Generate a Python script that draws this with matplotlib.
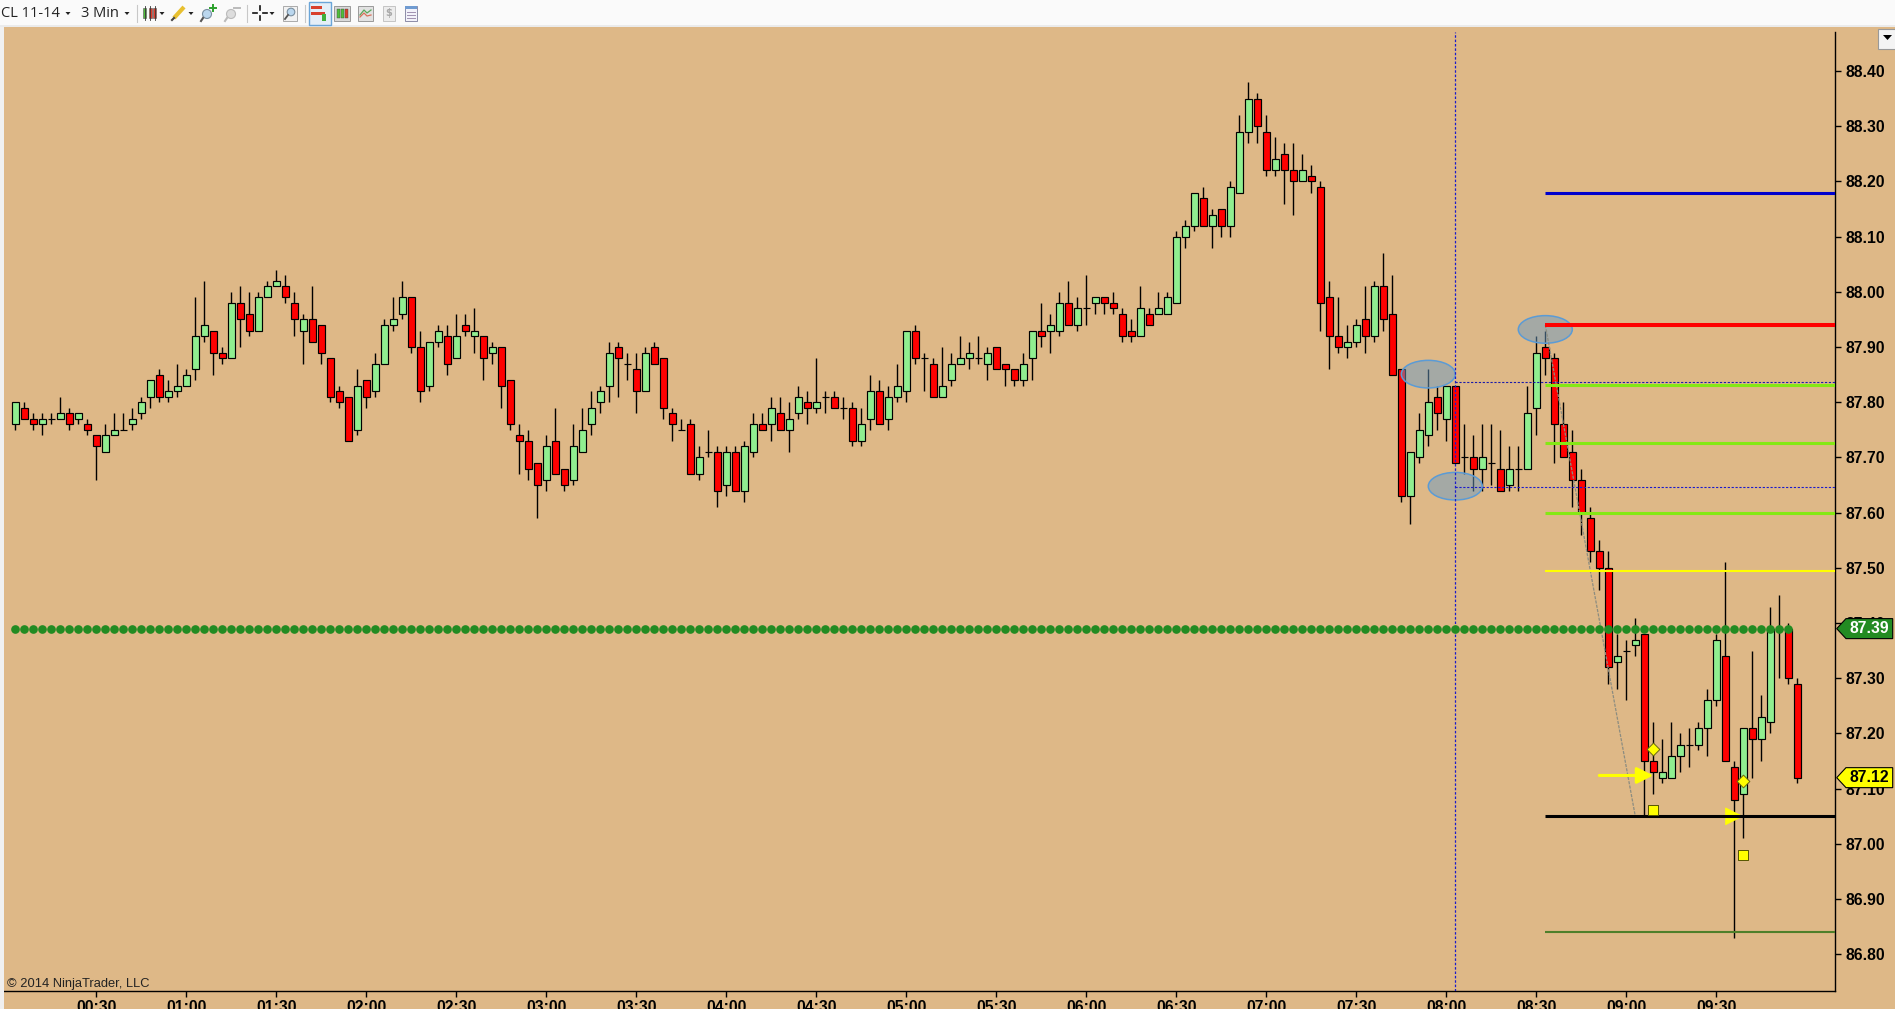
import matplotlib
matplotlib.use("Agg")
import matplotlib.pyplot as plt
from matplotlib.patches import Ellipse, Polygon, Rectangle, Circle

# 3 min bars, CL 11-14
opens = [87.76,87.79,87.77,87.76,87.77,87.77,87.78,87.77,87.76,87.74,
         87.71,87.74,87.75,87.76,87.78,87.81,87.85,87.81,87.82,87.83,
         87.86,87.92,87.93,87.89,87.88,87.98,87.96,87.93,87.99,88.01,
         88.01,87.98,87.93,87.95,87.94,87.88,87.82,87.81,87.75,87.84,
         87.82,87.87,87.94,87.96,87.99,87.90,87.83,87.91,87.92,87.88,
         87.94,87.92,87.92,87.89,87.90,87.84,87.74,87.73,87.69,87.66,
         87.73,87.68,87.66,87.71,87.76,87.80,87.83,87.90,87.87,87.86,
         87.82,87.90,87.88,87.78,87.75,87.76,87.67,87.71,87.71,87.65,
         87.71,87.64,87.71,87.76,87.76,87.78,87.75,87.78,87.80,87.79,
         87.81,87.81,87.79,87.79,87.73,87.77,87.82,87.77,87.81,87.82,
         87.93,87.88,87.87,87.81,87.84,87.87,87.88,87.88,87.87,87.90,
         87.87,87.86,87.84,87.88,87.93,87.93,87.93,87.98,87.94,87.97,
         87.98,87.99,87.98,87.96,87.93,87.92,87.96,87.96,87.96,87.98,
         88.10,88.12,88.17,88.12,88.15,88.12,88.18,88.29,88.35,88.29,
         88.22,88.25,88.22,88.20,88.21,88.19,87.99,87.92,87.90,87.91,
         87.95,87.92,88.01,87.96,87.86,87.63,87.70,87.74,87.81,87.77,
         87.83,87.70,87.70,87.68,87.69,87.68,87.65,87.68,87.68,87.79,
         87.90,87.88,87.76,87.71,87.66,87.59,87.53,87.50,87.33,87.35,
         87.36,87.38,87.15,87.12,87.12,87.16,87.18,87.18,87.21,87.26,
         87.34,87.14,87.09,87.21,87.19,87.22,87.39,87.39,87.29]
highs = [87.80,87.80,87.78,87.78,87.78,87.81,87.79,87.78,87.77,87.74,
         87.76,87.78,87.78,87.79,87.81,87.84,87.86,87.84,87.87,87.86,
         87.99,88.02,87.93,87.90,88.00,88.01,88.00,88.00,88.02,88.04,
         88.03,88.00,87.96,88.01,87.94,87.88,87.83,87.81,87.86,87.84,
         87.89,87.95,87.99,88.02,87.99,87.93,87.91,87.94,87.94,87.96,
         87.96,87.97,87.92,87.91,87.90,87.84,87.76,87.75,87.69,87.74,
         87.79,87.68,87.76,87.79,87.82,87.83,87.91,87.91,87.89,87.89,
         87.90,87.91,87.88,87.79,87.77,87.77,87.72,87.75,87.72,87.72,
         87.72,87.73,87.78,87.78,87.81,87.81,87.80,87.83,87.82,87.88,
         87.82,87.82,87.81,87.80,87.79,87.85,87.84,87.83,87.87,87.93,
         87.94,87.89,87.88,87.90,87.89,87.92,87.91,87.92,87.90,87.90,
         87.87,87.86,87.89,87.93,87.98,87.96,88.00,88.02,87.99,88.03,
         87.99,87.99,88.00,87.97,87.95,88.01,87.97,88.00,88.00,88.11,
         88.13,88.18,88.19,88.15,88.15,88.20,88.32,88.38,88.36,88.32,
         88.28,88.27,88.27,88.25,88.23,88.20,88.02,87.99,87.94,87.95,
         88.01,88.02,88.07,88.03,87.86,87.71,87.78,87.86,87.83,87.83,
         87.83,87.76,87.74,87.76,87.76,87.75,87.72,87.72,87.83,87.92,
         87.93,87.89,87.80,87.75,87.68,87.61,87.55,87.53,87.38,87.37,
         87.41,87.38,87.22,87.19,87.22,87.20,87.21,87.22,87.28,87.38,
         87.51,87.15,87.21,87.35,87.27,87.43,87.45,87.40,87.30]
lows = [87.75,87.77,87.75,87.74,87.76,87.77,87.75,87.76,87.74,87.66,
        87.71,87.74,87.75,87.75,87.77,87.79,87.80,87.80,87.81,87.83,
        87.84,87.91,87.85,87.87,87.88,87.90,87.92,87.93,87.99,88.01,
        87.98,87.92,87.87,87.91,87.87,87.80,87.79,87.73,87.74,87.79,
        87.81,87.87,87.93,87.95,87.89,87.80,87.82,87.90,87.85,87.88,
        87.92,87.89,87.84,87.87,87.79,87.75,87.67,87.66,87.59,87.64,
        87.67,87.64,87.65,87.71,87.74,87.78,87.80,87.81,87.84,87.78,
        87.82,87.87,87.77,87.73,87.75,87.67,87.66,87.70,87.61,87.63,
        87.64,87.62,87.70,87.75,87.73,87.75,87.71,87.77,87.76,87.78,
        87.78,87.79,87.77,87.72,87.72,87.75,87.76,87.75,87.80,87.80,
        87.87,87.82,87.81,87.81,87.83,87.87,87.86,87.87,87.84,87.86,
        87.83,87.83,87.83,87.84,87.90,87.89,87.92,87.94,87.93,87.94,
        87.96,87.96,87.96,87.91,87.91,87.92,87.94,87.96,87.96,87.98,
        88.08,88.11,88.12,88.08,88.10,88.10,88.18,88.27,88.27,88.21,
        88.21,88.16,88.14,88.20,88.18,87.93,87.86,87.89,87.88,87.90,
        87.89,87.91,87.93,87.85,87.62,87.58,87.69,87.72,87.75,87.73,
        87.69,87.67,87.64,87.64,87.65,87.64,87.64,87.64,87.68,87.74,
        87.85,87.69,87.70,87.61,87.56,87.51,87.46,87.29,87.28,87.26,
        87.34,87.05,87.09,87.11,87.12,87.13,87.14,87.17,87.16,87.25,
        87.15,86.83,87.01,87.12,87.15,87.20,87.30,87.29,87.11]
closes = [87.80,87.77,87.76,87.77,87.77,87.78,87.76,87.78,87.75,87.72,
          87.74,87.75,87.75,87.77,87.80,87.84,87.81,87.82,87.83,87.85,
          87.92,87.94,87.89,87.88,87.98,87.95,87.93,87.99,88.01,88.02,
          87.99,87.95,87.95,87.91,87.89,87.81,87.80,87.73,87.83,87.81,
          87.87,87.94,87.95,87.99,87.90,87.82,87.91,87.93,87.87,87.92,
          87.93,87.93,87.88,87.90,87.83,87.76,87.73,87.68,87.65,87.72,
          87.67,87.65,87.72,87.75,87.79,87.82,87.89,87.88,87.87,87.82,
          87.89,87.87,87.79,87.76,87.75,87.67,87.70,87.71,87.64,87.71,
          87.64,87.72,87.76,87.75,87.79,87.75,87.77,87.81,87.79,87.80,
          87.81,87.79,87.79,87.73,87.76,87.82,87.76,87.81,87.83,87.93,
          87.88,87.88,87.81,87.83,87.87,87.88,87.89,87.88,87.89,87.86,
          87.86,87.84,87.87,87.93,87.92,87.94,87.98,87.94,87.97,87.97,
          87.99,87.98,87.97,87.92,87.92,87.97,87.94,87.97,87.99,88.10,
          88.12,88.18,88.12,88.14,88.12,88.19,88.29,88.35,88.30,88.22,
          88.24,88.22,88.20,88.22,88.20,87.98,87.92,87.90,87.91,87.94,
          87.92,88.01,87.95,87.85,87.63,87.71,87.75,87.80,87.78,87.83,
          87.69,87.70,87.68,87.70,87.69,87.64,87.68,87.68,87.78,87.89,
          87.88,87.76,87.70,87.66,87.60,87.53,87.50,87.32,87.34,87.35,
          87.37,87.15,87.13,87.13,87.16,87.18,87.18,87.21,87.26,87.37,
          87.15,87.08,87.21,87.19,87.23,87.39,87.39,87.30,87.12]

price_ticks = [88.40,88.30,88.20,88.10,88.00,87.90,87.80,87.70,87.60,87.50,
               87.40,87.30,87.20,87.10,87.00,86.90,86.80]
time_tick_bars = [9,19,29,39,49,59,69,79,89,99,109,119,129,139,149,159,169,179,189]
time_labels = ["00:30","01:00","01:30","02:00","02:30","03:00","03:30","04:00","04:30","05:00",
               "05:30","06:00","06:30","07:00","07:30","08:00","08:30","09:00","09:30"]

# levels drawn from the 08:33 bar to the axis
level_start = 170
level_prices = [88.18, 87.94, 87.832, 87.727, 87.60, 87.495, 87.05, 86.84]
level_colors = ["#0000CD", "#FF0000", "#84E814", "#84E814", "#84E814", "#FFFF00", "#000000", "#4E7F2A"]
level_widths = [2.2, 2.9, 2.2, 2.2, 2.2, 1.5, 2.2, 1.5]

pivot_price = 87.39
pivot_last_bar = 197
range_bar = 160
range_high = 87.836
range_low = 87.647

ellipse_bars = [170, 157, 160]
ellipse_prices = [87.932, 87.851, 87.648]

diag_bars = [170, 180]
diag_prices = [87.94, 87.05]

arrow_tails = [176, 187]
arrow_heads = [182, 192]
arrow_prices = [87.124, 87.05]
arrow_widths = [2.2, 0.7]
arrow_scales = [14, 17]

marker_bars = [182, 192]
square_prices = [87.062, 86.979]
diamond_prices = [87.172, 87.114]

tag_prices = [87.39, 87.12]
tag_texts = ["87.39", "87.12"]
tag_fills = ["#228B22", "#FFFF00"]
tag_inks = ["white", "black"]

BG = "#DEB887"
UP = "#90EE90"
DOWN = "#FF0000"
FONT = "Liberation Sans"

fig = plt.figure(figsize=(18.95, 10.09), dpi=100, facecolor=BG)

# chart area in pixels: x 4..1835, y 32..991
ax = fig.add_axes([4/1895, (1009-991)/1009, 1831.3/1895, 959/1009], facecolor=BG)
x0 = (4 - 15.3) / 9
x1 = (1835.3 - 15.3) / 9
ax.set_xlim(x0, x1)
ax.set_ylim(86.8 - (991 - 954.3) / 552, 86.8 + (954.3 - 32) / 552)

for s in ["top", "left"]:
    ax.spines[s].set_visible(False)
for s in ["right", "bottom"]:
    ax.spines[s].set_linewidth(1.0)

bars = list(range(len(opens)))
ax.vlines(bars, lows, highs, color="black", lw=1.0, zorder=3)
for i in bars:
    top = max(opens[i], closes[i])
    bot = min(opens[i], closes[i])
    col = UP if closes[i] >= opens[i] else DOWN
    ax.bar(i, top - bot, bottom=bot, width=0.74, color=col, edgecolor="black", lw=0.85, zorder=4)

for b, p in zip(ellipse_bars, ellipse_prices):
    ax.add_patch(Ellipse((b, p), 6, 0.05, facecolor=(0.42, 0.61, 0.77, 0.5),
                         edgecolor="#5B9BD5", lw=1.1, zorder=5))

ax.axvline(range_bar, color="#1A1ACC", lw=0.9, ls=(0, (2, 1.5)), zorder=5)
ax.plot([range_bar, x1], [range_high, range_high], color="#1A1AAA", lw=0.8, ls=(0, (2, 1.5)), zorder=5)
ax.plot([range_bar, x1], [range_low, range_low], color="#1A1ACC", lw=0.8, ls=(0, (2, 1.5)), zorder=5)

ax.plot(diag_bars, diag_prices, color="#8C8C80", lw=0.9, ls=(0, (2.5, 1)), zorder=5)

for t, h, p, w, m in zip(arrow_tails, arrow_heads, arrow_prices, arrow_widths, arrow_scales):
    ax.annotate("", xy=(h, p), xytext=(t, p), zorder=5,
                arrowprops=dict(arrowstyle="-|>,head_length=0.7,head_width=0.35", mutation_scale=m,
                                color="#FFFF00", lw=w, shrinkA=0, shrinkB=0))

for p, c, w in zip(level_prices, level_colors, level_widths):
    ax.plot([level_start, x1], [p, p], color=c, lw=w, solid_capstyle="butt", zorder=6)

ax.scatter(bars[:pivot_last_bar + 1], [pivot_price] * (pivot_last_bar + 1), s=39, color="#228B22",
           linewidths=0, zorder=7)

ax.scatter(marker_bars, square_prices, s=52, marker="s", color="#FFFF00", edgecolors="#555500", linewidths=0.7, zorder=8)
ax.scatter(marker_bars, diamond_prices, s=42, marker="D", color="#FFFF00", edgecolors="#6B6B10", linewidths=0.7, zorder=8)

ax.yaxis.tick_right()
ax.set_yticks(price_ticks)
ax.set_yticklabels(["%.2f" % p for p in price_ticks], fontname=FONT, fontweight="bold", fontsize=11.3)
ax.set_xticks(time_tick_bars)
ax.set_xticklabels(time_labels, fontname=FONT, fontweight="bold", fontsize=11.3)
ax.tick_params(axis="y", length=4.3, width=1.0, pad=3)
ax.tick_params(axis="x", length=4.3, width=1.0, pad=2)

# price tags over the axis labels
tip = (1836.7 - 15.3) / 9
shoulder = (1846 - 15.3) / 9
end = (1892.7 - 15.3) / 9
half = 10 / 552
for p, txt, fill, ink in zip(tag_prices, tag_texts, tag_fills, tag_inks):
    ax.add_patch(Polygon([(tip, p), (shoulder, p + half), (end, p + half), (end, p - half), (shoulder, p - half)],
                         closed=True, facecolor=fill, edgecolor="black", lw=0.8, clip_on=False, zorder=9))
    ax.text(206, p, txt, color=ink, fontname=FONT, fontweight="bold", fontsize=11.3, ha="center",
            va="center", clip_on=False, zorder=10)

# window chrome, pixel coordinates
ui = fig.add_axes([0, 0, 1, 1], zorder=5)
ui.set_xlim(0, 1895)
ui.set_ylim(1009, 0)
ui.axis("off")
ui.patch.set_alpha(0)

ui.add_patch(Rectangle((0, 27), 4, 982, facecolor="#F0F0F0", edgecolor="none"))
ui.add_patch(Rectangle((0, 0), 1895, 27, facecolor="#FAFAFA", edgecolor="none"))
ui.add_patch(Rectangle((0, 25), 1895, 2, facecolor="#EBEBEB", edgecolor="none"))

ui.text(1, 13.5, "CL 11-14", fontname="Open Sans", fontsize=10.5, va="center", color="#222222")
ui.text(81, 13.5, "3 Min", fontname="Open Sans", fontsize=10.5, va="center", color="#222222")
ui.text(7, 984, "\u00a9 2014 NinjaTrader, LLC", fontname=FONT, fontsize=9.3, va="center", color="#222222")

for x in [68, 127, 162, 191, 272]:
    ui.add_patch(Polygon([(x - 2.5, 12), (x + 2.5, 12), (x, 15)], facecolor="#222222", edgecolor="none"))
for x in [137, 247, 305]:
    ui.plot([x, x], [5, 22], color="#C8C8C8", lw=0.8)

# chart style icon
for x, c in zip([143, 148.5, 153], ["#4FBF3A", "#E03A2A", "#E03A2A"]):
    ui.plot([x + 1.5, x + 1.5], [6, 20], color="#333333", lw=0.6)
    ui.add_patch(Rectangle((x, 8), 3.2, 10, facecolor=c, edgecolor="#555555", lw=0.4))
# pencil
ui.plot([174, 184], [18, 7], color="#E8C030", lw=3, solid_capstyle="butt")
ui.plot([172, 174], [20, 18], color="#444444", lw=1.5)
# zoom in / out
ui.add_patch(Circle((207, 14), 4.5, facecolor="#BBD7EE", edgecolor="#7A8FA0", lw=0.8))
ui.plot([203, 201], [18, 21], color="#555555", lw=1.5)
ui.plot([210, 216], [8, 8], color="#2AA02A", lw=1.4)
ui.plot([213, 213], [5, 11], color="#2AA02A", lw=1.4)
ui.add_patch(Circle((231, 14), 4.5, facecolor="#DDDDDD", edgecolor="#BBBBBB", lw=0.8))
ui.plot([227, 225], [18, 21], color="#BBBBBB", lw=1.5)
ui.plot([234, 240], [8, 8], color="#BBBBBB", lw=1.4)
# crosshair
for seg in [([253, 257], [13, 13]), ([263, 267], [13, 13]), ([260, 260], [6, 10]), ([260, 260], [16, 20])]:
    ui.plot(seg[0], seg[1], color="#111111", lw=1.2)
# magnifier in a frame
ui.add_patch(Rectangle((283, 6), 14, 15, facecolor="#F2F2F2", edgecolor="#AAAAAA", lw=0.7))
ui.add_patch(Circle((291, 12), 3.8, facecolor="#BBD7EE", edgecolor="#7A8FA0", lw=0.8))
ui.plot([288, 285], [15, 19], color="#555555", lw=1.3)
# selected button and the ones after it
ui.add_patch(Rectangle((308.5, 1.5), 22, 23, facecolor="#E4EEF7", edgecolor="#6AA5D8", lw=1))
ui.add_patch(Rectangle((311, 6), 11, 3, facecolor="#D8402C", edgecolor="none"))
ui.add_patch(Rectangle((311, 12), 14, 3, facecolor="#D8402C", edgecolor="none"))
ui.add_patch(Rectangle((322, 14), 3.5, 7, facecolor="#3FAE3A", edgecolor="none"))
ui.add_patch(Rectangle((334, 6), 16, 15, facecolor="#D9D9D9", edgecolor="#9A9A9A", lw=0.7))
for x, c in zip([337, 341, 345], ["#4FBF3A", "#4FBF3A", "#D8402C"]):
    ui.add_patch(Rectangle((x, 9), 2.6, 9, facecolor=c, edgecolor="#444444", lw=0.3))
ui.add_patch(Rectangle((358, 6), 15, 15, facecolor="#E2E2E2", edgecolor="#9A9A9A", lw=0.7))
ui.plot([360, 364, 367, 371], [15, 10, 13, 10], color="#5AA65A", lw=0.9)
ui.plot([360, 364, 367, 371], [17, 13, 16, 15], color="#D8705A", lw=0.9)
ui.add_patch(Rectangle((383, 6), 12, 15, facecolor="#EDEDED", edgecolor="#C4C4C4", lw=0.7))
ui.text(389, 13.5, "$", fontsize=7, fontweight="bold", color="#A8A8A8", ha="center", va="center")
ui.add_patch(Rectangle((405, 6), 12, 15, facecolor="#F2F2FA", edgecolor="#8C8CA8", lw=0.7))
ui.add_patch(Rectangle((405, 6), 12, 3, facecolor="#6F9BD1", edgecolor="none"))
ui.plot([407, 415], [12, 12], color="#A090B0", lw=0.7)
ui.plot([407, 415], [15, 15], color="#A090B0", lw=0.7)
ui.plot([407, 415], [18, 18], color="#A090B0", lw=0.7)

# drop down button, top right
ui.add_patch(Rectangle((1877.5, 28.5), 20, 20, facecolor="#F4F4F4", edgecolor="#999999", lw=0.8))
ui.add_patch(Polygon([(1883, 35), (1892, 35), (1887.5, 40)], facecolor="black", edgecolor="none"))

fig.savefig("out.png", dpi=100, facecolor=BG)
